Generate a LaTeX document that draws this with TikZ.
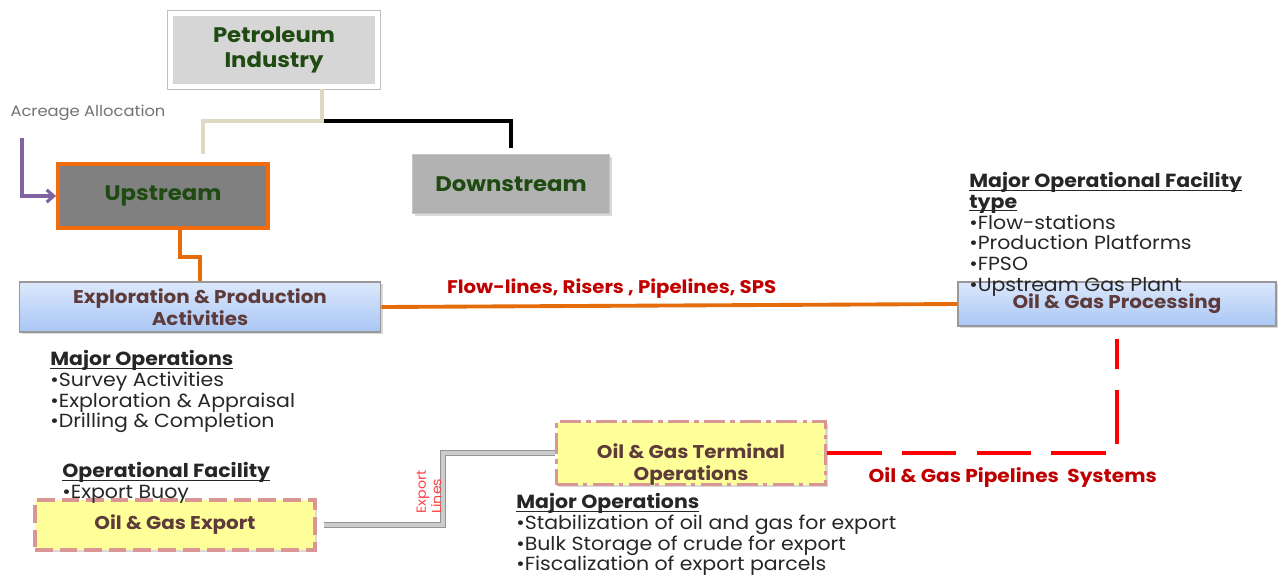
\documentclass[tikz,border=0pt]{standalone}
\usepackage{fontspec}
\setmainfont{Poppins}[FakeStretch=1.08]
\usetikzlibrary{positioning,arrows.meta,calc,shadows}
\definecolor{leafgreen}{HTML}{1F4A12}
\definecolor{boxbrown}{HTML}{5E3B3B}
\definecolor{flowred}{HTML}{C00000}
\definecolor{pipered}{HTML}{FF0000}
\definecolor{upor}{HTML}{F26B0C}
\definecolor{linkor}{HTML}{E46C0A}
\definecolor{acrpurple}{HTML}{8064A2}
\definecolor{dashpink}{HTML}{D99694}
\definecolor{padyellow}{HTML}{FFFF99}
\definecolor{forkbeige}{HTML}{DDD9C3}
\definecolor{acttop}{HTML}{DCE8FC}
\definecolor{actbot}{HTML}{A9C6F4}
\definecolor{notegray}{HTML}{262626}
\newcommand\uhead[1]{\underline{\smash{\textbf{#1}}}\vphantom{\textbf{#1}}}
\tikzset{
  box/.style={rectangle,align=center,inner sep=2pt,text=leafgreen,
    font=\bfseries\fontsize{12}{14.5}\selectfont,
    drop shadow={opacity=0.3,shadow xshift=1.2pt,shadow yshift=-1.2pt}},
  topbox/.style={box,fill=black!16,draw=white,line width=3pt,
    minimum width=4.16cm,minimum height=1.46cm},
  upbox/.style={box,fill=black!50,draw=upor,line width=2.2pt,
    minimum width=4.2cm,minimum height=1.28cm},
  downbox/.style={box,fill=black!30,draw=black!22,line width=0.6pt,
    minimum width=3.94cm,minimum height=1.18cm},
  actbox/.style={box,text=boxbrown,font=\bfseries\fontsize{10.5}{12.5}\selectfont,
    top color=acttop,bottom color=actbot,draw=black!40,line width=1pt},
  padbox/.style={box,text=boxbrown,font=\bfseries\fontsize{10.5}{12.5}\selectfont,
    fill=padyellow,draw=dashpink,line width=2pt,dash pattern=on 12pt off 3pt on 2.5pt off 3pt},
  padtext/.style={text=boxbrown,align=center,font=\bfseries\fontsize{10.5}{12.5}\selectfont},
  note/.style={anchor=north west,inner sep=0pt,align=left,text=notegray},
  beigeline/.style={draw=forkbeige,line width=2.2pt},
  blackline/.style={draw=black,line width=2.2pt},
  orangeline/.style={draw=linkor,line width=2.2pt},
  acrarrow/.style={-{Straight Barb[length=4pt,width=7pt]},draw=acrpurple,line width=1.8pt},
  gasline/.style={draw=pipered,line width=2.8pt,dash pattern=on 31pt off 11.5pt},
  expline/.style={draw=black!42,double=black!20,double distance=1.8pt,line width=0.9pt},
  flowlabel/.style={text=flowred,font=\bfseries\fontsize{10.4}{12}\selectfont,inner sep=1pt},
}
\begin{document}
\begin{tikzpicture}[x=0.02cm,y=-0.02cm,font=\fontsize{10.8}{11.8}\selectfont]
  \useasboundingbox (0,0) rectangle (1278,576);
  % horní strom
  \node[topbox] (pet) at (274,50) {Petroleum\\Industry};
  \draw[black!25,line width=0.6pt] (pet.south west) rectangle (pet.north east);
  \node[upbox] (up) at (163,196) {Upstream};
  \node[downbox] (down) at (511,184) {Downstream};
  \coordinate (fork) at (322,121);
  \draw[blackline] (fork) -| ($(down.north)+(0,-6)$);
  \draw[beigeline] (pet.south -| fork) -- (fork) -| ($(up.north)+(40,-8)$);
  % přidělení ploch
  \node[text=black!55,inner sep=0pt,font=\fontsize{8.6}{10}\selectfont] (acr) at (88,113) {Acreage Allocation};
  \coordinate (acrtop) at (22,138);
  \draw[acrarrow] (acrtop) |- (up.west);
  % E&P a zpracování
  \node[actbox,minimum width=7.22cm,minimum height=1cm] (ep) at (200,307) {Exploration \& Production\\Activities};
  \node[actbox,minimum width=6.36cm,minimum height=0.88cm] (proc) at (1117,304) {Oil \& Gas Processing};
  \draw[orangeline] ($(up.south)+(17,0)$) -- ++(0,27) -| (ep.north);
  \draw[orangeline] (ep.east) -- node[flowlabel,pos=0.4,above=2pt] (flowlbl) {Flow-lines, Risers , Pipelines, SPS} (proc.west);
  % terminál a export
  \node[padbox,minimum width=5.38cm,minimum height=1.26cm,
    label={[padtext,yshift=-6.5pt]center:Oil \& Gas Terminal\\Operations}] (term) at (691,453) {};
  \node[padbox,dash pattern=on 10pt off 4pt,minimum width=5.6cm,minimum height=1cm] (exp) at (175,525) {Oil \& Gas Export};
  \draw[gasline,shorten >=7pt] (term.east) -| node[flowlabel,font=\bfseries\fontsize{10.6}{12}\selectfont,pos=0.32,below=6pt] (gaslbl) {Oil \& Gas Pipelines\ \ Systems} (proc.south);
  \coordinate (elbow) at (443,490);
  \draw[expline,shorten <=4pt] (exp.east) -| (elbow) |- (term.west);
  \node[rotate=90,align=left,text=pipered!75,inner sep=0pt,font=\fontsize{7.5}{8.6}\selectfont] (explbl) at (429,492) {Export\\Lines};
  % poznámky
  \node[note] (epnote) at (50,350) {\uhead{Major Operations}\\•Survey Activities\\•Exploration \& Appraisal\\•Drilling \& Completion};
  \node[note] (expnote) at (62,462) {\uhead{Operational Facility}\\•Export Buoy};
  \node[note] (termnote) at (516,493) {\uhead{Major Operations}\\•Stabilization of oil and gas for export\\•Bulk Storage of crude for export\\•Fiscalization of export parcels};
  \node[note] (procnote) at (969,172) {\uhead{Major Operational Facility}\\\uhead{type}\\•Flow-stations\\•Production Platforms\\•FPSO\\•Upstream Gas Plant};
\end{tikzpicture}
\end{document}
